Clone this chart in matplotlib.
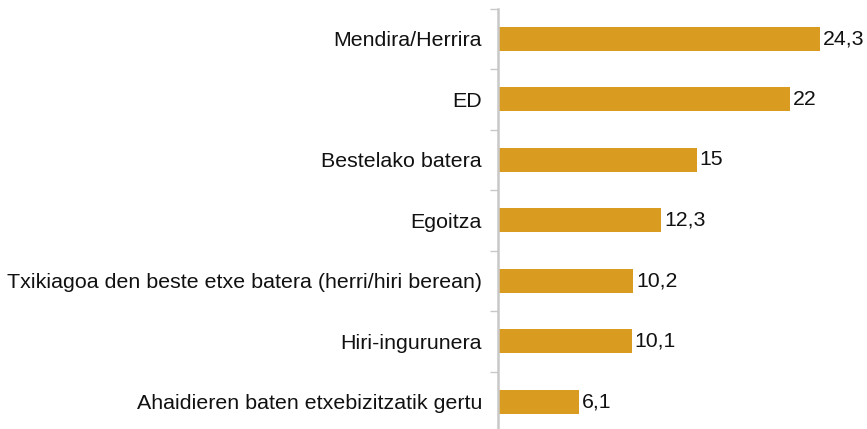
import matplotlib
matplotlib.use("Agg")
import matplotlib.pyplot as plt
import numpy as np

# Data
categories = [
    "Mendira/Herrira",
    "ED",
    "Bestelako batera",
    "Egoitza",
    "Txikiagoa den beste etxe batera (herri/hiri berean)",
    "Hiri-ingurunera",
    "Ahaidieren baten etxebizitzatik gertu",
]
values = [24.3, 22, 15, 12.3, 10.2, 10.1, 6.1]
value_labels = ["24,3", "22", "15", "12,3", "10,2", "10,1", "6,1"]

plt.rcParams["font.family"] = ["Liberation Sans", "DejaVu Sans"]

fig = plt.figure(figsize=(8.67, 4.29), dpi=100)
ax = fig.add_axes([0.5744, -0.007, 0.405, 0.987])

y = np.arange(len(categories))
ax.barh(y, values, height=0.4, color="#DA9C20")

for yi, v, lab in zip(y, values, value_labels):
    ax.text(v + 0.22, yi, lab, va="center", ha="left", fontsize=15.3, color="#111111")

ax.set_ylim(len(categories) - 0.5, -0.5)
ax.set_xlim(0, 26.5)

ax.set_yticks(y)
ax.set_yticklabels(categories, fontsize=15.4, color="#111111")
ax.tick_params(axis="y", which="major", length=0, pad=11.5)
ax.set_yticks(np.arange(-0.5, len(categories) + 0.5, 1), minor=True)
ax.tick_params(axis="y", which="minor", length=6, width=1, color="#c8c8c8")

ax.set_xticks([])
for s in ["top", "right", "bottom"]:
    ax.spines[s].set_visible(False)
ax.spines["left"].set_color("#c8c8c8")
ax.spines["left"].set_linewidth(1.8)

fig.savefig("out.png", dpi=100)
